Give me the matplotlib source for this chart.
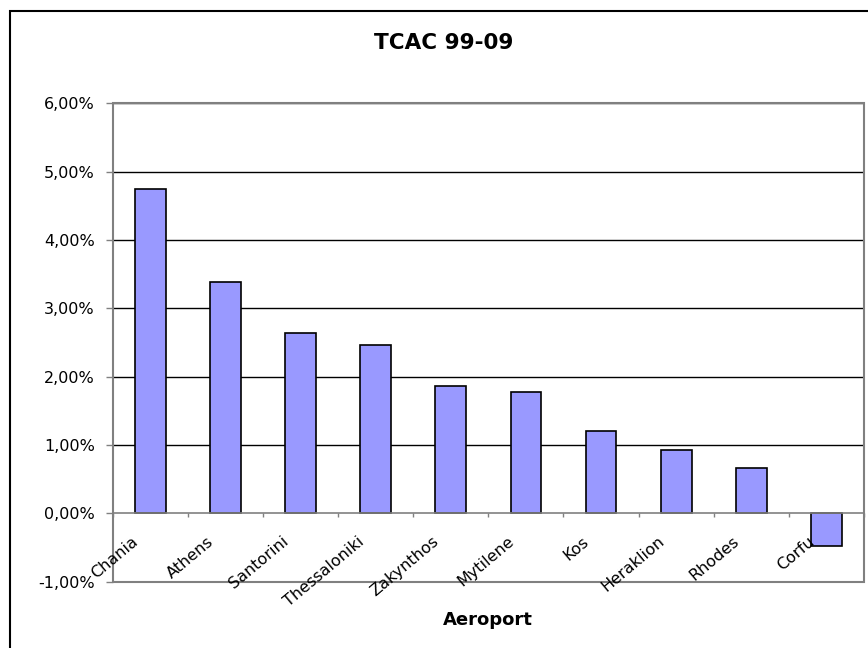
import matplotlib.pyplot as plt
from matplotlib.patches import Rectangle

airports = ["Chania", "Athens", "Santorini", "Thessaloniki", "Zakynthos",
            "Mytilene", "Kos", "Heraklion", "Rhodes", "Corfu"]
tcac = [4.75, 3.39, 2.64, 2.47, 1.86, 1.77, 1.21, 0.93, 0.67, -0.48]  # %
yticks = [-1, 0, 1, 2, 3, 4, 5, 6]

W, H = 868, 648
fig = plt.figure(figsize=(W / 100, H / 100), dpi=100)
ax = fig.add_axes([112.7 / W, 1 - 581.7 / H, (864 - 112.7) / W, (581.7 - 103.3) / H])

gray = "#808080"
x = list(range(len(airports)))

for v in yticks[2:]:
    ax.axhline(v, color="black", lw=1.0, zorder=1)

ax.bar(x, tcac, width=0.41, color="#9999FF", edgecolor="black", lw=1.2, zorder=3)

ax.set_xlim(-0.5, len(airports) - 0.5)
ax.set_ylim(-1, 6)
ax.set_yticks(yticks)
ax.set_yticklabels([f"{v:.2f}%".replace(".", ",") for v in yticks], fontsize=11.5)
ax.tick_params(axis="y", direction="out", length=5, width=1, color=gray, pad=8)

# x axis sits on the zero line, tick marks between categories
for s in ["top", "right", "left"]:
    ax.spines[s].set_visible(False)
ax.spines["bottom"].set_position(("data", 0))
ax.spines["bottom"].set_color(gray)
ax.spines["bottom"].set_linewidth(1.2)
ax.set_xticks([i - 0.5 for i in range(len(airports) + 1)])
ax.set_xticklabels([])
ax.tick_params(axis="x", direction="out", length=3, width=1, color=gray)
ax.spines["bottom"].set_zorder(4)

ax.add_patch(Rectangle((0, 0), 1, 1, transform=ax.transAxes, fill=False,
                       edgecolor=gray, lw=1.5, clip_on=False, zorder=5))

for i, name in enumerate(airports):
    ax.annotate(name, xy=(i, 0), xytext=(-14, -26), textcoords="offset pixels",
                ha="right", va="center", rotation=40, rotation_mode="anchor",
                fontsize=11.5, zorder=6, annotation_clip=False)

fig.text(444 / W, 1 - 43 / H, "TCAC 99-09", ha="center", va="center",
         fontsize=15.5, fontweight="bold")
fig.text(488 / W, 1 - 620 / H, "Aeroport", ha="center", va="center",
         fontsize=13, fontweight="bold")

# chart frame, running off the right and bottom edges
fig.add_artist(Rectangle((9.5 / W, -0.1), 1.1, 1.1 - 11 / H, transform=fig.transFigure,
                         fill=False, edgecolor="black", lw=1.5))

fig.savefig("out.png", dpi=100)
